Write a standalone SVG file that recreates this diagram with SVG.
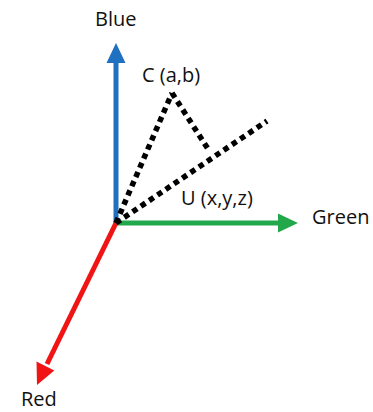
<svg xmlns="http://www.w3.org/2000/svg" width="373" height="412" viewBox="0 0 373 412">
<style>
.lbl{font-family:"Open Sans","Liberation Sans",sans-serif;font-size:20px;fill:#111}
.dot{stroke:#000;stroke-width:5.5;fill:none;stroke-dasharray:5.5 4.5}
</style>
<rect width="373" height="412" fill="#fff"/>
<g id="connectors">
<g id="blue-axis">
<line x1="116" y1="223" x2="116" y2="60" stroke="#1f70c1" stroke-width="5"/>
<polygon points="116,43 106.5,63 125.5,63" fill="#1f70c1"/>
</g>
<g id="green-axis">
<line x1="116" y1="223" x2="280" y2="223" stroke="#22a84a" stroke-width="5"/>
<polygon points="298,223 278,213.5 278,232.5" fill="#22a84a"/>
</g>
<g id="red-axis">
<line x1="116" y1="223" x2="47" y2="364" stroke="#f01414" stroke-width="5"/>
<polygon points="37,385 54.3,370.5 36.5,361.5" fill="#f01414"/>
</g>
<line class="dot" x1="116" y1="223" x2="172" y2="93"/>
<line class="dot" x1="116" y1="223" x2="267" y2="121"/>
<line class="dot" x1="172" y1="93" x2="208" y2="149" stroke-width="5"/>
</g>
<g id="blue"><text class="lbl" x="95" y="26">Blue</text></g>
<g id="c"><text class="lbl" x="142" y="82">C (a,b)</text></g>
<g id="u"><text class="lbl" x="181" y="205">U (x,y,z)</text></g>
<g id="green"><text class="lbl" x="312" y="224">Green</text></g>
<g id="red"><text class="lbl" x="21" y="406">Red</text></g>
</svg>
